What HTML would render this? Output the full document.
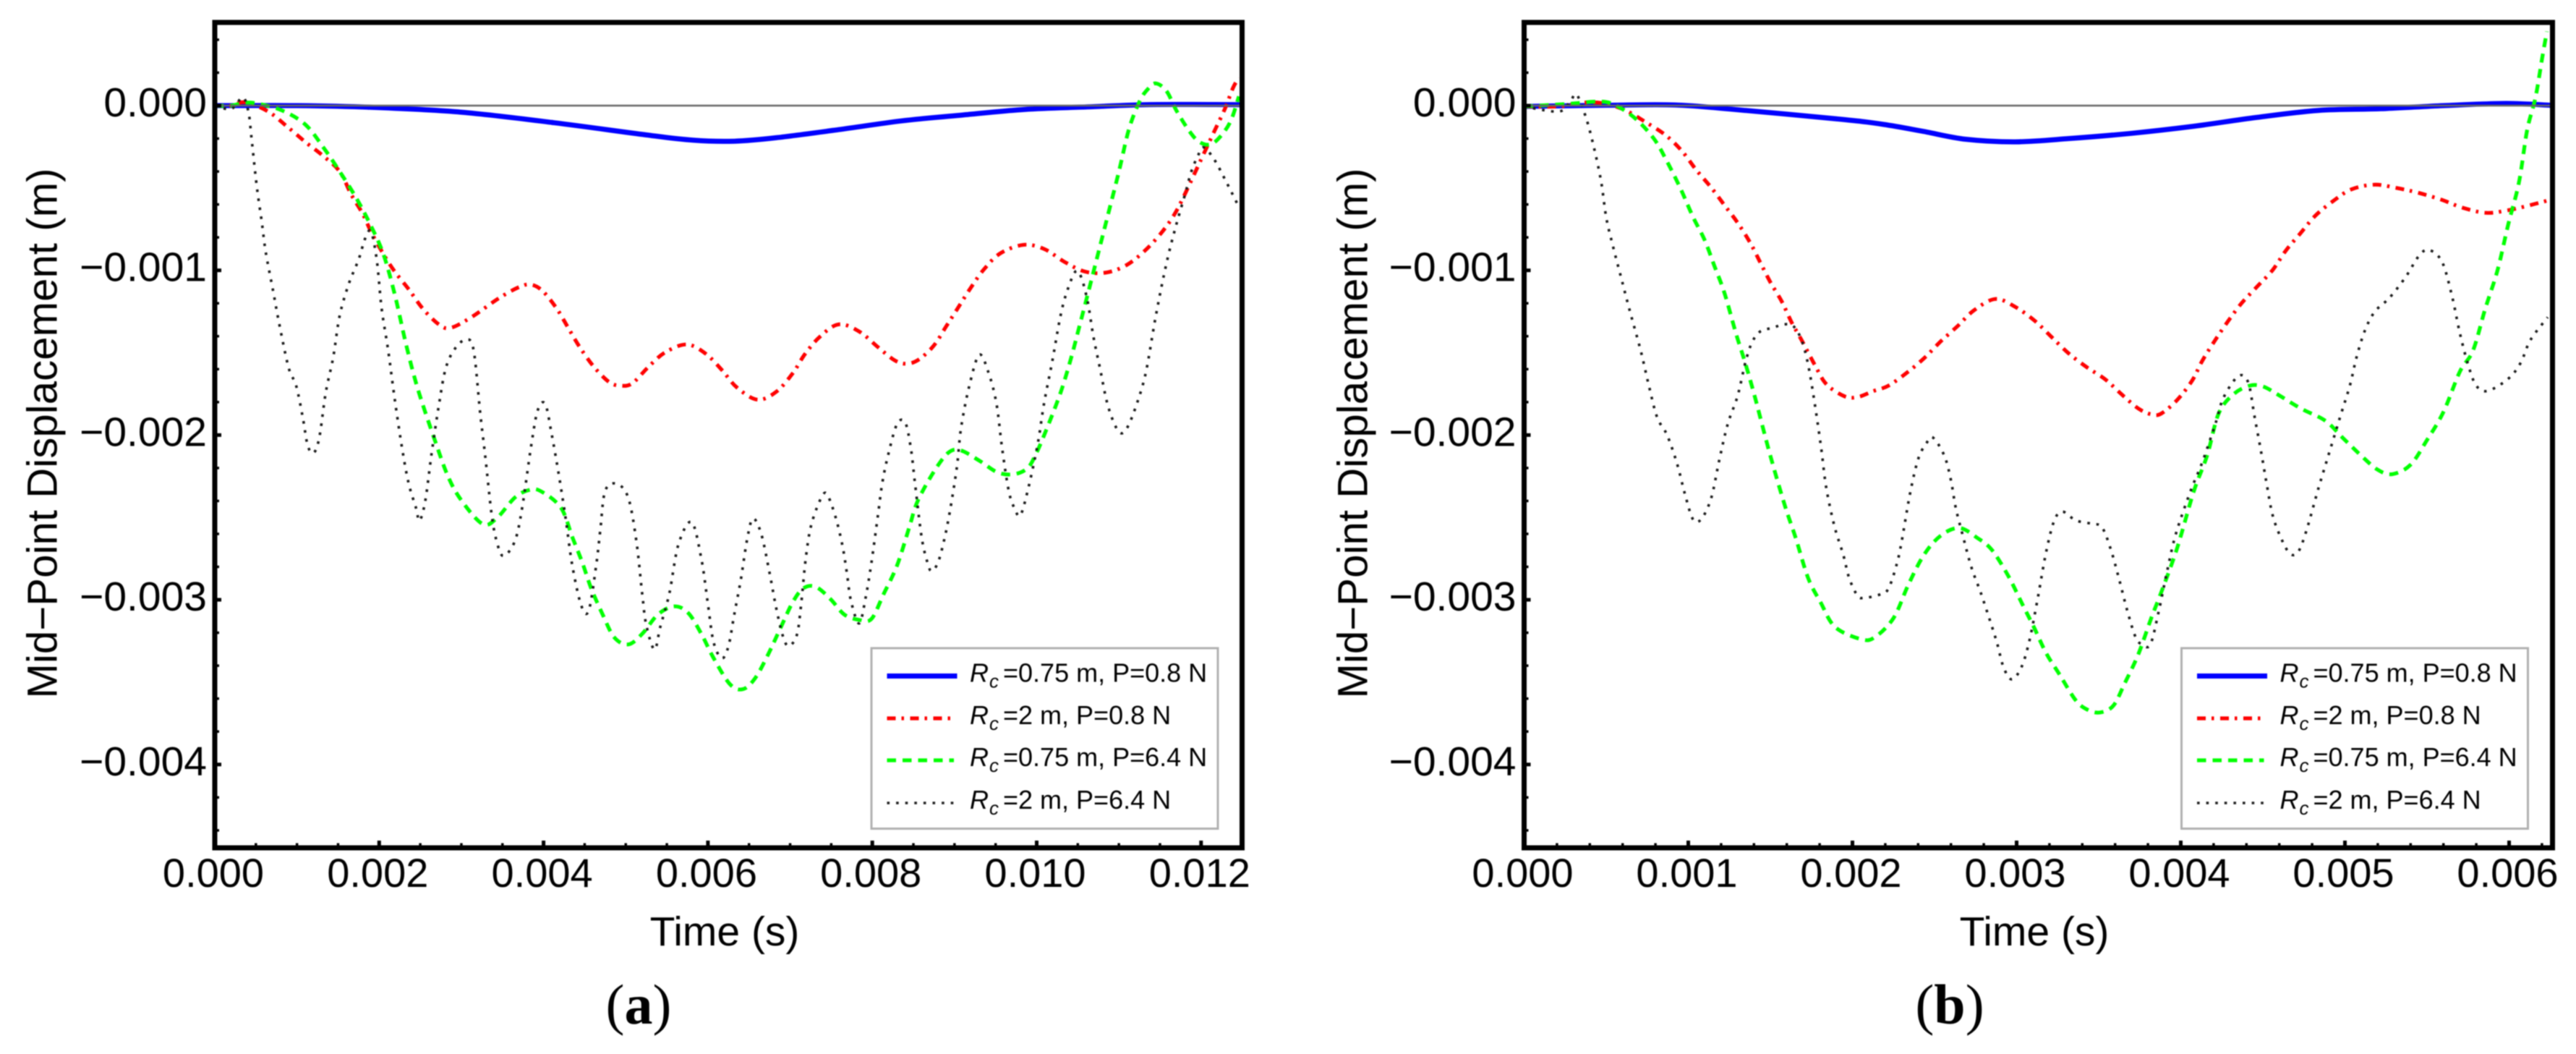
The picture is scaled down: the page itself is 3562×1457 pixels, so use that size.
<!DOCTYPE html>
<html lang="en">
<head>
<meta charset="utf-8">
<title>Mid-Point Displacement vs Time</title>
<style>
html,body{margin:0;padding:0;background:#fff;}
svg{display:block;filter:blur(0.7px);}
text{font-family:"Liberation Sans",Arial,sans-serif;fill:#000;}
.serif{font-family:"Liberation Serif",serif;}
</style>
</head>
<body>
<svg id="figure" xmlns="http://www.w3.org/2000/svg" width="3562" height="1457" viewBox="0 0 3562 1457">
<rect x="0" y="0" width="3562" height="1457" fill="#fff"/>
</svg>
<script>
// ---- shared tick labels (seconds / metres) ----
const yTickValues = [0, -0.001, -0.002, -0.003, -0.004];
const yTickLabels = ["0.000", "\u22120.001", "\u22120.002", "\u22120.003", "\u22120.004"];
const xTickValuesA = [0, 0.002, 0.004, 0.006, 0.008, 0.010, 0.012];
const xTickLabelsA = ["0.000", "0.002", "0.004", "0.006", "0.008", "0.010", "0.012"];
const xTickValuesB = [0, 0.001, 0.002, 0.003, 0.004, 0.005, 0.006];
const xTickLabelsB = ["0.000", "0.001", "0.002", "0.003", "0.004", "0.005", "0.006"];
const legendLabels = ["=0.75 m, P=0.8 N", "=2 m, P=0.8 N", "=0.75 m, P=6.4 N", "=2 m, P=6.4 N"];

// ---- Panel (a): time in ms, displacement in mm ----
const aBlueT = [0,1,1.89,3,4.13,5.25,5.82,6.32,6.83,7.59,8.35,9.1,9.86,10.62,11.37,12.39,12.51];
const aBlueV = [0,0,-0.01,-0.04,-0.104,-0.178,-0.21,-0.216,-0.195,-0.146,-0.093,-0.057,-0.023,-0.008,0.006,0.006,0.004];
const aRedT = [0,0.2,0.37,0.65,0.875,1.1,1.32,1.52,1.66,1.8,1.91,2.05,2.19,2.36,2.53,2.73,2.87,3.12,3.46,3.71,3.85,3.99,4.16,4.3,4.44,4.61,4.8,4.94,5.08,5.28,5.48,5.74,5.97,6.17,6.35,6.6,6.83,7.03,7.18,7.36,7.59,7.84,8.07,8.27,8.42,8.57,8.75,8.9,9.05,9.2,9.36,9.56,9.84,10.09,10.34,10.59,10.85,11.1,11.33,11.53,11.68,11.81,12.03,12.16,12.29,12.39,12.46];
const aRedV = [0,0,0.02,-0.036,-0.125,-0.22,-0.306,-0.4,-0.54,-0.657,-0.775,-0.9,-1.008,-1.115,-1.232,-1.33,-1.349,-1.285,-1.168,-1.1,-1.087,-1.126,-1.232,-1.349,-1.466,-1.584,-1.679,-1.7,-1.686,-1.584,-1.498,-1.45,-1.505,-1.605,-1.71,-1.785,-1.738,-1.626,-1.509,-1.404,-1.328,-1.371,-1.467,-1.546,-1.567,-1.54,-1.456,-1.339,-1.222,-1.104,-0.993,-0.896,-0.845,-0.87,-0.949,-1.008,-1.013,-0.966,-0.874,-0.764,-0.657,-0.53,-0.295,-0.157,-0.019,0.109,0.169];
const aGreenT = [0,0.2,0.37,0.54,0.82,1.1,1.32,1.52,1.72,1.89,2.05,2.19,2.33,2.47,2.67,2.84,3.01,3.26,3.43,3.65,3.82,3.96,4.21,4.35,4.47,4.58,4.72,4.86,5.03,5.2,5.39,5.59,5.76,5.92,6.07,6.27,6.43,6.58,6.73,6.88,7.03,7.16,7.31,7.49,7.66,7.84,7.99,8.14,8.3,8.45,8.55,8.75,8.93,9.08,9.31,9.53,9.73,9.89,9.99,10.11,10.29,10.42,10.52,10.62,10.74,10.87,11,11.12,11.25,11.35,11.45,11.58,11.7,11.86,11.98,12.11,12.23,12.36,12.46];
const aGreenV = [0,0,0.018,0.01,-0.03,-0.114,-0.253,-0.4,-0.56,-0.72,-0.9,-1.147,-1.455,-1.72,-2.02,-2.254,-2.403,-2.54,-2.505,-2.38,-2.334,-2.339,-2.44,-2.62,-2.772,-2.931,-3.09,-3.228,-3.271,-3.207,-3.09,-3.04,-3.08,-3.207,-3.355,-3.514,-3.542,-3.472,-3.334,-3.175,-3.016,-2.931,-2.921,-2.995,-3.09,-3.122,-3.116,-2.963,-2.793,-2.56,-2.403,-2.222,-2.105,-2.094,-2.158,-2.228,-2.237,-2.2,-2.116,-1.977,-1.743,-1.53,-1.339,-1.147,-0.913,-0.657,-0.402,-0.147,0.024,0.099,0.135,0.088,-0.03,-0.157,-0.221,-0.236,-0.19,-0.094,0.056];
const aBlackT = [0,0.2,0.34,0.41,0.45,0.51,0.57,0.62,0.71,0.79,0.9,0.99,1.07,1.13,1.2,1.27,1.35,1.44,1.52,1.63,1.75,1.83,1.9,1.97,2.03,2.11,2.19,2.28,2.36,2.45,2.49,2.56,2.64,2.73,2.81,2.92,3.06,3.15,3.23,3.29,3.37,3.43,3.51,3.65,3.74,3.85,3.93,4.02,4.1,4.19,4.27,4.35,4.46,4.55,4.64,4.69,4.75,4.89,5.03,5.13,5.2,5.25,5.35,5.42,5.53,5.64,5.8,5.92,6,6.07,6.17,6.25,6.32,6.4,6.48,6.55,6.65,6.75,6.83,6.91,6.98,7.08,7.13,7.19,7.26,7.39,7.46,7.56,7.64,7.69,7.74,7.84,7.92,7.99,8.07,8.12,8.19,8.3,8.4,8.47,8.52,8.6,8.67,8.72,8.8,8.88,8.95,9.03,9.08,9.18,9.3,9.41,9.51,9.58,9.66,9.73,9.8,9.89,10.01,10.09,10.19,10.29,10.37,10.47,10.54,10.62,10.69,10.77,10.87,11,11.1,11.22,11.33,11.45,11.58,11.7,11.81,11.88,11.96,12.03,12.16,12.31,12.46];
const aBlackV = [0,-0.02,0.05,-0.04,-0.21,-0.487,-0.7,-0.89,-1.126,-1.34,-1.594,-1.7,-1.892,-2.062,-2.109,-2.02,-1.743,-1.53,-1.275,-1.083,-0.934,-0.806,-0.764,-0.934,-1.232,-1.487,-1.785,-2.083,-2.296,-2.445,-2.52,-2.403,-2.105,-1.807,-1.594,-1.477,-1.419,-1.487,-1.87,-2.126,-2.488,-2.645,-2.734,-2.645,-2.44,-2.062,-1.849,-1.811,-1.998,-2.254,-2.51,-2.793,-3.037,-3.065,-2.793,-2.58,-2.339,-2.296,-2.38,-2.645,-2.963,-3.154,-3.302,-3.165,-2.963,-2.666,-2.528,-2.751,-3.027,-3.26,-3.355,-3.281,-3.09,-2.878,-2.624,-2.507,-2.603,-2.836,-3.048,-3.217,-3.281,-3.217,-3.048,-2.751,-2.54,-2.37,-2.37,-2.51,-2.68,-2.836,-3.006,-3.143,-2.984,-2.772,-2.48,-2.296,-2.126,-1.934,-1.924,-2.083,-2.296,-2.62,-2.772,-2.825,-2.772,-2.624,-2.445,-2.19,-1.956,-1.702,-1.513,-1.615,-1.807,-2.083,-2.339,-2.445,-2.488,-2.339,-2.062,-1.807,-1.551,-1.275,-1.126,-1.008,-1.04,-1.19,-1.402,-1.594,-1.828,-1.98,-1.956,-1.807,-1.615,-1.275,-0.955,-0.72,-0.53,-0.402,-0.306,-0.253,-0.327,-0.466,-0.615];

// ---- Panel (b): time in ms, displacement in mm ----
const bBlueT = [0,0.5,0.92,1.275,1.93,2.19,2.434,2.69,2.99,3.32,3.7,4.08,4.46,4.84,5.22,5.6,5.98,6.25];
const bBlueV = [-0.005,0.002,0.004,-0.023,-0.083,-0.114,-0.157,-0.204,-0.22,-0.2,-0.168,-0.125,-0.072,-0.029,-0.019,0,0.013,0.002];
const bRedT = [0,0.21,0.36,0.49,0.62,0.74,0.86,0.96,1.05,1.14,1.22,1.3,1.38,1.44,1.5,1.57,1.63,1.69,1.77,1.84,1.95,2.03,2.13,2.22,2.34,2.44,2.535,2.64,2.74,2.87,2.99,3.11,3.21,3.31,3.42,3.54,3.64,3.74,3.82,3.88,3.98,4.07,4.13,4.21,4.29,4.37,4.46,4.56,4.64,4.73,4.82,4.93,5.04,5.18,5.32,5.45,5.59,5.72,5.86,5.99,6.13,6.25];
const bRedV = [-0.005,-0.005,0.018,0.013,-0.03,-0.1,-0.178,-0.274,-0.392,-0.498,-0.604,-0.71,-0.838,-0.955,-1.072,-1.19,-1.317,-1.423,-1.573,-1.69,-1.764,-1.77,-1.732,-1.7,-1.615,-1.53,-1.434,-1.339,-1.243,-1.174,-1.221,-1.306,-1.402,-1.498,-1.583,-1.662,-1.753,-1.838,-1.874,-1.87,-1.785,-1.668,-1.551,-1.423,-1.306,-1.2,-1.104,-0.998,-0.88,-0.774,-0.668,-0.578,-0.508,-0.48,-0.501,-0.53,-0.572,-0.621,-0.651,-0.636,-0.604,-0.572];
const bGreenT = [0,0.26,0.44,0.54,0.67,0.79,0.87,0.95,1.03,1.1,1.16,1.22,1.29,1.35,1.41,1.5,1.59,1.654,1.73,1.806,1.894,2.05,2.135,2.25,2.34,2.434,2.535,2.65,2.76,2.85,2.95,3.04,3.105,3.18,3.26,3.36,3.435,3.51,3.59,3.66,3.74,3.82,3.89,3.98,4.08,4.16,4.23,4.32,4.42,4.5,4.59,4.73,4.88,4.99,5.1,5.2,5.29,5.4,5.5,5.6,5.7,5.78,5.855,5.93,5.995,6.06,6.11,6.16,6.2,6.23];
const bGreenV = [-0.005,0.01,0.024,0.01,-0.072,-0.2,-0.338,-0.498,-0.678,-0.817,-0.976,-1.136,-1.381,-1.572,-1.785,-2.126,-2.433,-2.624,-2.868,-3.016,-3.165,-3.239,-3.228,-3.111,-2.91,-2.73,-2.613,-2.564,-2.624,-2.698,-2.857,-3.037,-3.165,-3.324,-3.451,-3.61,-3.669,-3.684,-3.642,-3.504,-3.334,-3.112,-2.931,-2.679,-2.339,-2.126,-1.871,-1.753,-1.7,-1.705,-1.753,-1.838,-1.913,-2.02,-2.126,-2.211,-2.237,-2.18,-2.03,-1.86,-1.615,-1.487,-1.232,-0.998,-0.72,-0.466,-0.147,0.045,0.28,0.45];
const bBlackT = [0,0.21,0.28,0.32,0.38,0.43,0.47,0.5,0.54,0.59,0.64,0.71,0.76,0.81,0.87,0.93,0.98,1.03,1.08,1.14,1.19,1.24,1.3,1.35,1.39,1.44,1.515,1.58,1.64,1.69,1.73,1.77,1.81,1.84,1.89,1.945,1.98,2.03,2.07,2.17,2.22,2.27,2.3,2.35,2.4,2.45,2.49,2.56,2.6,2.63,2.675,2.725,2.78,2.84,2.88,2.92,2.97,3.03,3.08,3.13,3.18,3.23,3.28,3.36,3.46,3.52,3.575,3.625,3.675,3.725,3.765,3.815,3.866,3.917,3.97,4.06,4.13,4.21,4.26,4.35,4.41,4.45,4.49,4.525,4.56,4.61,4.665,4.715,4.765,4.84,4.905,4.97,5.03,5.07,5.12,5.18,5.27,5.37,5.45,5.51,5.59,5.65,5.7,5.75,5.8,5.87,5.995,6.07,6.13,6.235];
const bBlackV = [-0.005,-0.036,0.024,0.067,-0.083,-0.274,-0.466,-0.678,-0.849,-1.04,-1.232,-1.487,-1.7,-1.892,-1.998,-2.168,-2.36,-2.514,-2.509,-2.381,-2.147,-1.934,-1.764,-1.551,-1.434,-1.37,-1.349,-1.328,-1.339,-1.423,-1.572,-1.807,-2.083,-2.318,-2.552,-2.73,-2.868,-2.974,-2.989,-2.967,-2.931,-2.783,-2.645,-2.36,-2.147,-2.05,-2.015,-2.126,-2.275,-2.445,-2.62,-2.804,-2.953,-3.133,-3.26,-3.408,-3.483,-3.408,-3.239,-2.984,-2.709,-2.518,-2.465,-2.518,-2.539,-2.56,-2.698,-2.878,-3.069,-3.228,-3.271,-3.271,-3.069,-2.825,-2.6,-2.339,-2.168,-1.934,-1.774,-1.643,-1.679,-1.892,-2.105,-2.307,-2.488,-2.624,-2.72,-2.709,-2.581,-2.318,-2.105,-1.892,-1.7,-1.53,-1.37,-1.253,-1.168,-1.04,-0.913,-0.876,-0.945,-1.147,-1.381,-1.572,-1.7,-1.732,-1.658,-1.562,-1.423,-1.285];

const svg = document.getElementById('figure');
const NS = 'http://www.w3.org/2000/svg';

function node(parent, tag, attrs) {
  const el = document.createElementNS(NS, tag);
  for (const k in attrs) el.setAttribute(k, attrs[k]);
  parent.appendChild(el);
  return el;
}

function curvePath(ts, vs, sx, sy) {
  const p = ts.map((t, i) => [sx(t / 1000), sy(vs[i] / 1000)]);
  let d = 'M' + p[0][0].toFixed(1) + ' ' + p[0][1].toFixed(1);
  for (let i = 0; i < p.length - 1; i++) {
    const a = p[Math.max(i - 1, 0)], b = p[i], c = p[i + 1], e = p[Math.min(i + 2, p.length - 1)];
    const c1x = b[0] + (c[0] - a[0]) / 6, c1y = b[1] + (c[1] - a[1]) / 6;
    const c2x = c[0] - (e[0] - b[0]) / 6, c2y = c[1] - (e[1] - b[1]) / 6;
    d += 'C' + c1x.toFixed(1) + ' ' + c1y.toFixed(1) + ' ' + c2x.toFixed(1) + ' ' + c2y.toFixed(1) + ' ' + c[0].toFixed(1) + ' ' + c[1].toFixed(1);
  }
  return d;
}

const seriesStyles = [
  {stroke: '#0000ff', width: 7, dash: 'none'},
  {stroke: '#ff0000', width: 5.2, dash: '12 8 3.5 8.5'},
  {stroke: '#00ff00', width: 5.2, dash: '12.5 9'},
  {stroke: '#1a1a1a', width: 3.6, dash: '3.6 9'}
];

const Y_ZERO = 146, Y_PER_M = 227700, TOP = 31, BOTTOM = 1172;
const sy = v => Y_ZERO - v * Y_PER_M;

function drawPanel(cfg) {
  const sx = t => cfg.left + t * cfg.pxPerSec;
  const g = node(svg, 'g', {});
  
  

  const clipId = cfg.name + '-clip';
  const defs = node(g, 'defs', {});
  const cp = node(defs, 'clipPath', {id: clipId});
  node(cp, 'rect', {x: cfg.left, y: TOP, width: cfg.right - cfg.left, height: BOTTOM - TOP});

  // series
  cfg.series.forEach((s, i) => {
    const st = seriesStyles[i];
    const path = node(g, 'path', {d: curvePath(s.t, s.v, sx, sy), fill: 'none', stroke: st.stroke, 'stroke-width': st.width, 'stroke-dasharray': st.dash, 'clip-path': 'url(#' + clipId + ')'});
    
    
  });

  // zero line
  const zero = node(g, 'line', {x1: cfg.left, x2: cfg.right + 3, y1: sy(0), y2: sy(0), stroke: '#666', 'stroke-width': 2.5});
  
  

  // frame
  const frame = node(g, 'rect', {x: cfg.left, y: TOP, width: cfg.right - cfg.left, height: BOTTOM - TOP, fill: 'none', stroke: '#000', 'stroke-width': 7});
  
  

  // y minor ticks
  for (let k = -22; k <= 2; k++) {
    if (k % 5 === 0) continue;
    const y = sy(k * 0.0002);
    const t = node(g, 'line', {x1: cfg.left, x2: cfg.left + 6, y1: y, y2: y, stroke: '#000', 'stroke-width': 3.5});
    
    
  }
  // y major ticks + labels
  yTickValues.forEach((v, i) => {
    const y = sy(v);
    const t = node(g, 'line', {x1: cfg.left, x2: cfg.left + 9, y1: y, y2: y, stroke: '#000', 'stroke-width': 5});
    
    
    const lab = node(g, 'text', {x: cfg.left - 11, y: y + 15, 'text-anchor': 'end', 'font-size': 57});
    lab.textContent = yTickLabels[i];
    
    
  });
  // x minor ticks
  const maxK = Math.floor((cfg.right - cfg.left) / cfg.pxPerSec / cfg.xMinorStep + 0.001);
  for (let k = 1; k <= maxK; k++) {
    if (k % cfg.xMinorPerMajor === 0) continue;
    const x = sx(k * cfg.xMinorStep);
    const t = node(g, 'line', {x1: x, x2: x, y1: BOTTOM, y2: BOTTOM - 6.5, stroke: '#000', 'stroke-width': 3.5});
    
    
  }
  // x major ticks + labels
  cfg.xTicks.forEach((v, i) => {
    const x = sx(v);
    if (v > 0) {
      const t = node(g, 'line', {x1: x, x2: x, y1: BOTTOM, y2: BOTTOM - 10, stroke: '#000', 'stroke-width': 5});
      
      
    }
    const lab = node(g, 'text', {x: x - 2, y: 1226, 'text-anchor': 'middle', 'font-size': 56});
    lab.textContent = cfg.xLabels[i];
    
    
  });

  // axis titles
  const yt = node(g, 'text', {transform: 'translate(' + cfg.yTitleX + ' 599) rotate(-90)', 'text-anchor': 'middle', 'font-size': 58, textLength: 733, lengthAdjust: 'spacing'});
  yt.textContent = 'Mid\u2212Point Displacement (m)';
  
  
  const xt = node(g, 'text', {x: cfg.xTitleX, y: 1307, 'text-anchor': 'middle', 'font-size': 57});
  xt.textContent = 'Time (s)';
  
  

  // panel caption
  const cap = node(g, 'text', {x: cfg.capX, y: 1415, 'text-anchor': 'middle', 'font-size': 78, 'class': 'serif'});
  
  
  const c1 = node(cap, 'tspan', {});
  c1.textContent = '(';
  const c2 = node(cap, 'tspan', {'font-weight': 'bold'});
  c2.textContent = cfg.capLetter;
  const c3 = node(cap, 'tspan', {});
  c3.textContent = ')';

  // legend
  const lg = node(g, 'g', {transform: 'translate(' + cfg.legendDx + ' 0)'});
  
  
  const box = node(lg, 'rect', {x: 1205, y: 896, width: 479, height: 249.5, fill: '#fff', stroke: '#b0b0b0', 'stroke-width': 3});
  
  
  const rowY = [934.5, 993, 1051, 1110];
  legendLabels.forEach((label, i) => {
    const st = seriesStyles[i];
    const row = node(lg, 'g', {});
    
    
    const sw = node(row, 'line', {x1: 1226.5, x2: i === 0 ? 1323.5 : 1319, y1: rowY[i], y2: rowY[i], stroke: st.stroke, 'stroke-width': st.width, 'stroke-dasharray': st.dash});
    
    
    const tx = node(row, 'text', {x: 1341, y: rowY[i] + 8, 'font-size': 36});
    
    
    const r = node(tx, 'tspan', {'font-style': 'italic'});
    r.textContent = 'R';
    const c = node(tx, 'tspan', {'font-style': 'italic', 'font-size': 26, dy: 8, dx: 1});
    c.textContent = 'c';
    const rest = node(tx, 'tspan', {x: 1387, dy: -8});
    rest.textContent = label;
  });
}

drawPanel({
  name: 'panel-a', left: 297, right: 1717.5, pxPerSec: 113650,
  xTicks: xTickValuesA, xLabels: xTickLabelsA, xMinorStep: 0.0005, xMinorPerMajor: 4,
  yTitleX: 78.5, xTitleX: 1002, capX: 883, capLetter: 'a', legendDx: 0,
  series: [
    {name: 'series-rc-0.75-p-0.8', t: aBlueT, v: aBlueV},
    {name: 'series-rc-2-p-0.8', t: aRedT, v: aRedV},
    {name: 'series-rc-0.75-p-6.4', t: aGreenT, v: aGreenV},
    {name: 'series-rc-2-p-6.4', t: aBlackT, v: aBlackV}
  ]
});
drawPanel({
  name: 'panel-b', left: 2107.5, right: 3529.5, pxPerSec: 227000,
  xTicks: xTickValuesB, xLabels: xTickLabelsB, xMinorStep: 0.0002, xMinorPerMajor: 5,
  yTitleX: 1890.7, xTitleX: 2813, capX: 2696, capLetter: 'b', legendDx: 1811.5,
  series: [
    {name: 'series-rc-0.75-p-0.8', t: bBlueT, v: bBlueV},
    {name: 'series-rc-2-p-0.8', t: bRedT, v: bRedV},
    {name: 'series-rc-0.75-p-6.4', t: bGreenT, v: bGreenV},
    {name: 'series-rc-2-p-6.4', t: bBlackT, v: bBlackV}
  ]
});
</script>
</body>
</html>
